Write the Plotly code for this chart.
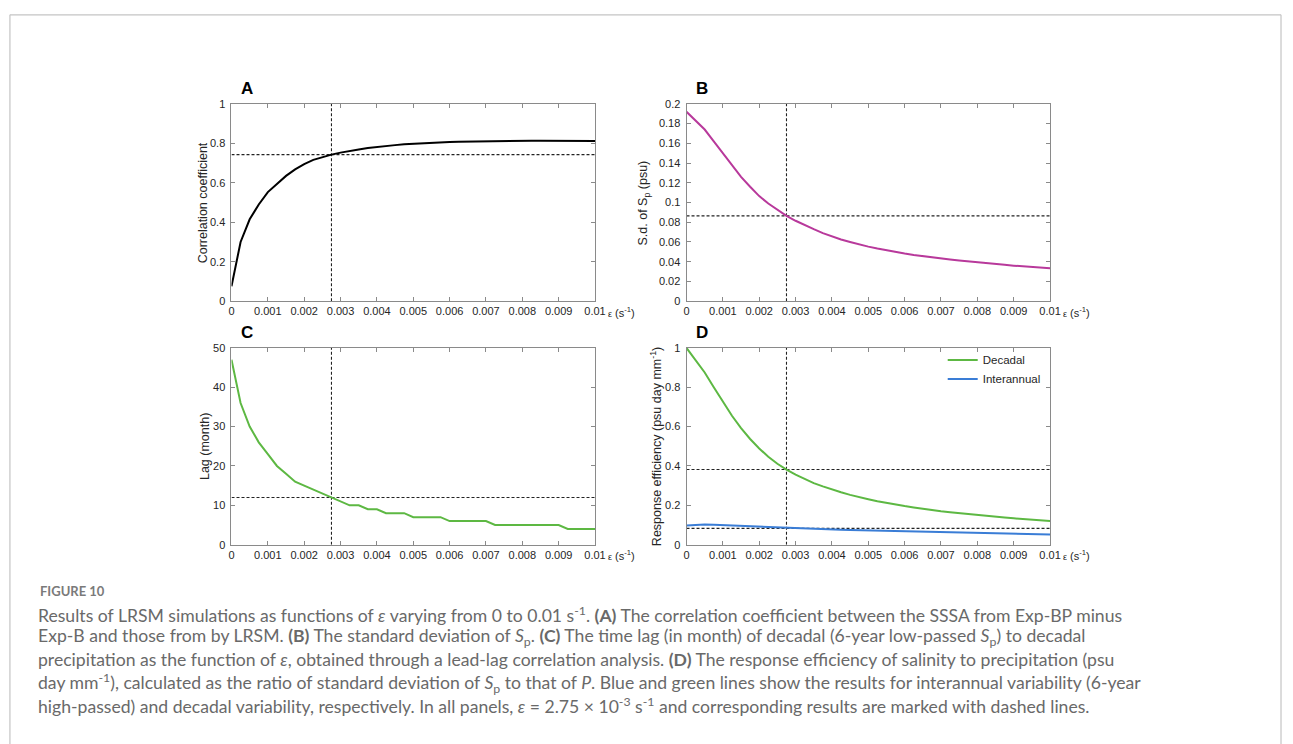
import plotly.graph_objects as go

W, H = 1293, 744

# ---------------- data ----------------
eps = [i * 0.00025 for i in range(41)]
eps_star = 0.00275

corr = [0.075, 0.30, 0.415, 0.49, 0.553, 0.595, 0.635, 0.668, 0.695, 0.716, 0.731,
        0.743, 0.753, 0.762, 0.769, 0.776, 0.782, 0.787, 0.791, 0.795, 0.798,
        0.801, 0.803, 0.805, 0.807, 0.808, 0.809, 0.810, 0.811, 0.8115, 0.812,
        0.8125, 0.8128, 0.813, 0.813, 0.813, 0.813, 0.8128, 0.8125, 0.8122, 0.812]
corr_star = 0.743

sd_sp = [0.192, 0.1825, 0.174, 0.162, 0.150, 0.138, 0.126, 0.116, 0.1065, 0.099, 0.0925,
         0.0865, 0.0815, 0.077, 0.073, 0.069, 0.0655, 0.0625, 0.060, 0.0575, 0.0553,
         0.0533, 0.0515, 0.0498, 0.0483, 0.0469, 0.0456, 0.0444, 0.0433, 0.0422, 0.0412,
         0.0402, 0.0393, 0.0384, 0.0376, 0.0368, 0.036, 0.0353, 0.0346, 0.034, 0.0334]
sd_star = 0.0865

lag = [47, 36, 30, 26, 23, 20, 18, 16, 15, 14, 13, 12, 11, 10, 10, 9, 9, 8, 8, 8,
       7, 7, 7, 7, 6, 6, 6, 6, 6, 5, 5, 5, 5, 5, 5, 5, 5, 4, 4, 4, 4]
lag_star = 12

decadal = [1.0, 0.935, 0.875, 0.80, 0.725, 0.655, 0.592, 0.537, 0.489, 0.447, 0.411,
           0.381, 0.356, 0.333, 0.313, 0.296, 0.28, 0.266, 0.253, 0.241, 0.231,
           0.221, 0.212, 0.204, 0.196, 0.189, 0.182, 0.176, 0.170, 0.165, 0.160,
           0.155, 0.150, 0.146, 0.142, 0.138, 0.134, 0.130, 0.127, 0.123, 0.120]
interannual = [0.097, 0.101, 0.102, 0.101, 0.099, 0.097, 0.095, 0.093, 0.091, 0.089, 0.087,
               0.085, 0.083, 0.082, 0.080, 0.079, 0.077, 0.076, 0.075, 0.074, 0.072,
               0.071, 0.070, 0.069, 0.068, 0.067, 0.066, 0.065, 0.064, 0.063, 0.062,
               0.061, 0.060, 0.059, 0.058, 0.057, 0.056, 0.055, 0.054, 0.053, 0.052]
dec_star = 0.382
int_star = 0.083

x_ticks = [0, 0.001, 0.002, 0.003, 0.004, 0.005, 0.006, 0.007, 0.008, 0.009, 0.01]
x_ticklabels = ["0", "0.001", "0.002", "0.003", "0.004", "0.005", "0.006", "0.007",
                "0.008", "0.009", "0.01"]
yA_ticks = [0, 0.2, 0.4, 0.6, 0.8, 1]
yA_labels = ["0", "0.2", "0.4", "0.6", "0.8", "1"]
yB_ticks = [0, 0.02, 0.04, 0.06, 0.08, 0.1, 0.12, 0.14, 0.16, 0.18, 0.2]
yB_labels = ["0", "0.02", "0.04", "0.06", "0.08", "0.1", "0.12", "0.14", "0.16", "0.18", "0.2"]
yC_ticks = [0, 10, 20, 30, 40, 50]
yC_labels = ["0", "10", "20", "30", "40", "50"]
yD_ticks = yA_ticks
yD_labels = yA_labels

panel_letters = ["A", "B", "C", "D"]
y_titles = ["Correlation coefficient",
            "S.d. of S<sub>p</sub> (psu)",
            "Lag (month)",
            "Response efficiency (psu day mm<sup>-1</sup>)"]

caption_head = "FIGURE 10"
caption_lines = [
    "Results of LRSM simulations as functions of <i>ε</i> varying from 0 to 0.01 s<sup>-1</sup>. <b>(A)</b> The correlation coefficient between the SSSA from Exp-BP minus",
    "Exp-B and those from by LRSM. <b>(B)</b> The standard deviation of <i>S</i><sub>p</sub>. <b>(C)</b> The time lag (in month) of decadal (6-year low-passed <i>S</i><sub>p</sub>) to decadal",
    "precipitation as the function of <i>ε</i>, obtained through a lead-lag correlation analysis. <b>(D)</b> The response efficiency of salinity to precipitation (psu",
    "day mm<sup>-1</sup>), calculated as the ratio of standard deviation of <i>S</i><sub>p</sub> to that of <i>P</i>. Blue and green lines show the results for interannual variability (6-year",
    "high-passed) and decadal variability, respectively. In all panels, <i>ε</i> = 2.75 × 10<sup>-3</sup> s<sup>-1</sup> and corresponding results are marked with dashed lines.",
]

# ---------------- layout helpers ----------------
def px(x):
    return x / W

def py(y):
    return 1 - y / H

AX_FONT = "Arial, Liberation Sans, sans-serif"
AX_COL = "#8a8a8a"
TXT_COL = "#262626"

# panel pixel boxes: left, right, top, bottom
boxes = [(231, 598.5, 99.5, 300), (691, 1058.5, 99.5, 300),
         (231, 598.5, 347.5, 547.5), (691, 1058.5, 347.5, 547.5)]
title_x = [202, 648, 205, 660]

fig = go.Figure()

DASH = dict(color="#222222", width=1.1, dash="3px,2px")

def add_panel(k, series, star_vals):
    xa = "x" if k == 0 else f"x{k+1}"
    ya = "y" if k == 0 else f"y{k+1}"
    ymax = [1, 0.2, 50, 1][k]
    fig.add_trace(go.Scatter(x=[eps_star, eps_star], y=[0, ymax], mode="lines",
                             line=DASH, xaxis=xa, yaxis=ya, showlegend=False, hoverinfo="skip"))
    for sv in star_vals:
        fig.add_trace(go.Scatter(x=[0, 0.01], y=[sv, sv], mode="lines",
                                 line=DASH, xaxis=xa, yaxis=ya, showlegend=False, hoverinfo="skip"))
    for (vals, col, name, leg) in series:
        fig.add_trace(go.Scatter(x=eps, y=vals, mode="lines", name=name,
                                 line=dict(color=col, width=2),
                                 xaxis=xa, yaxis=ya, showlegend=leg))

add_panel(0, [(corr, "#000000", "corr", False)], [corr_star])
add_panel(1, [(sd_sp, "#B8399B", "sd", False)], [sd_star])
add_panel(2, [(lag, "#5DB843", "lag", False)], [lag_star])
add_panel(3, [(decadal, "#5DB843", "Decadal", True),
              (interannual, "#3A7DD6", "Interannual", True)], [dec_star, int_star])

layout = dict(
    width=W, height=H, margin=dict(l=0, r=0, t=0, b=0),
    paper_bgcolor="white", plot_bgcolor="white",
    font=dict(family=AX_FONT, color=TXT_COL, size=11),
    legend=dict(x=px(950), y=py(345), xanchor="left", yanchor="top",
                bgcolor="rgba(0,0,0,0)", font=dict(size=11.5, color=TXT_COL),
                tracegroupgap=0, itemwidth=30),
)

yticks = [(yA_ticks, yA_labels, [0, 1]), (yB_ticks, yB_labels, [0, 0.2]),
          (yC_ticks, yC_labels, [0, 50]), (yD_ticks, yD_labels, [0, 1])]

annotations = []
shapes = []
for k, (l, r, t, b) in enumerate(boxes):
    sfx = "" if k == 0 else str(k + 1)
    common = dict(showgrid=False, zeroline=False, showline=True, linecolor=AX_COL,
                  linewidth=1, mirror="ticks", ticks="inside", ticklen=4,
                  tickcolor=AX_COL, tickwidth=1, tickfont=dict(size=11, color=TXT_COL),
                  fixedrange=True)
    layout["xaxis" + sfx] = dict(domain=[px(l), px(r)], range=[0, 0.01],
                                 tickvals=x_ticks, ticktext=x_ticklabels,
                                 anchor="y" + sfx, **common)
    tv, tl, rg = yticks[k]
    layout["yaxis" + sfx] = dict(domain=[py(b), py(t)], range=rg, tickvals=tv, ticktext=tl,
                                 anchor="x" + sfx, ticklabelstandoff=3, **common)
    annotations.append(dict(text="<b>" + panel_letters[k] + "</b>", xref="paper", yref="paper",
                            x=px(l + 8), y=py(t - 16), xanchor="left", yanchor="middle",
                            showarrow=False, font=dict(size=17, color="#000000", family=AX_FONT)))
    annotations.append(dict(text=y_titles[k], xref="paper", yref="paper",
                            x=px(title_x[k]), y=py((t + b) / 2), xanchor="center", yanchor="middle",
                            textangle=-90, showarrow=False,
                            font=dict(size=12.5, color=TXT_COL, family=AX_FONT)))
    annotations.append(dict(text="<span style='font-size:9px'>ε</span> (s<sup>-1</sup>)",
                            xref="paper", yref="paper", x=px(r + 11), y=py(b + 11),
                            xanchor="left", yanchor="middle", showarrow=False,
                            font=dict(size=11, color=TXT_COL, family=AX_FONT)))

CAP_FONT = "Lato, Open Sans, sans-serif"
CAP_COL = "#696969"
annotations.append(dict(text="<b>" + caption_head + "</b>", xref="paper", yref="paper",
                        x=px(35), y=py(595), xanchor="left", yanchor="middle", showarrow=False,
                        font=dict(size=13, color="#7a7a7a", family=CAP_FONT)))
for i, line in enumerate(caption_lines):
    annotations.append(dict(text=line, xref="paper", yref="paper",
                            x=px(33), y=py(618 + 23.3 * i), xanchor="left", yanchor="middle",
                            showarrow=False, font=dict(size=17.6, color=CAP_COL, family=CAP_FONT)))

# outer frame (open at the bottom)
for (x0, y0, x1, y1) in [(7, 9, 7, 760), (7, 9, 1292, 9), (1292, 9, 1292, 760)]:
    shapes.append(dict(type="line", xref="paper", yref="paper",
                       x0=px(x0), y0=py(y0), x1=px(x1), y1=py(y1),
                       line=dict(color="#c4c4c4", width=1.2)))

layout["annotations"] = annotations
layout["shapes"] = shapes
fig.update_layout(**layout)

fig.write_html("out.html", include_plotlyjs=True, config={"displayModeBar": False},
               post_script="document.body.style.margin='0';document.body.style.overflow='hidden';")
